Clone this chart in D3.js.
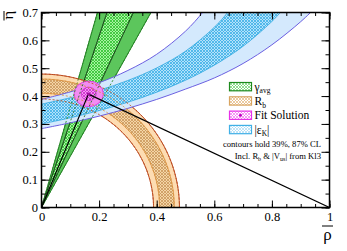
<!DOCTYPE html>
<html><head><meta charset="utf-8">
<script src="https://cdn.jsdelivr.net/npm/d3@7"></script>
<style>body{margin:0;background:#fff}svg{display:block}text{font-family:"Liberation Serif","Times New Roman",serif}</style>
</head><body><svg id="c" width="347" height="251"></svg>
<script>
// ---------- data ----------
const xMajorTicks=[0,0.2,0.4,0.6,0.8,1];
const xTickLabels=["0","0.2","0.4","0.6","0.8","1"];
const yMajorTicks=[0,0.1,0.2,0.3,0.4,0.5,0.6,0.7];
const yTickLabels=["0","0.1","0.2","0.3","0.4","0.5","0.6","0.7"];
const gammaOuterDeg=[61.5,74.5];
const gammaInnerDeg=[65.5,72];
const rbOuterRadii=[0.389,0.479];
const rbInnerRadii=[0.410,0.461];
const epsUpperOuter=[[0,0.388],[0.1,0.415],[0.2,0.448],[0.3,0.492],[0.4,0.550],[0.5,0.633],[0.56,0.701],[0.6,0.758]];
const epsUpperInner=[[0,0.371],[0.1,0.394],[0.2,0.421],[0.3,0.456],[0.4,0.501],[0.5,0.561],[0.6,0.647],[0.65,0.705],[0.7,0.78]];
const epsLowerInner=[[0,0.300],[0.1,0.322],[0.2,0.348],[0.3,0.378],[0.4,0.414],[0.5,0.457],[0.6,0.511],[0.7,0.579],[0.8,0.668],[0.85,0.724]];
const epsLowerOuter=[[0,0.283],[0.1,0.304],[0.2,0.328],[0.3,0.356],[0.4,0.388],[0.5,0.425],[0.6,0.465],[0.7,0.517],[0.8,0.584],[0.9,0.667],[0.95,0.716]];
const fitCenter=[0.164,0.408];
const fitOuterRadii=[0.051,0.046];
const fitInnerRadii=[0.026,0.024];
const apex=[0.163,0.407];
const legendKeys=["gamma","rb","fit","eps"];
const noteLines=["contours hold 39%, 87% CL","Incl. R_b & |V_us| from Kl3"];

// ---------- setup ----------
const svg=d3.select('#c');
const x=d3.scaleLinear().domain([0,1]).range([41.5,329.5]);
const y=d3.scaleLinear().domain([0,0.7]).range([207.5,12.5]);
const defs=svg.append('defs');
defs.append('clipPath').attr('id','plot').append('rect')
  .attr('x',x(0)).attr('y',y(0.7)).attr('width',x(1)-x(0)).attr('height',y(0)-y(0.7));
function pat(id,bg,fg,sw){
  const p=defs.append('pattern').attr('id',id).attr('patternUnits','userSpaceOnUse').attr('width',3).attr('height',3);
  p.append('rect').attr('width',3).attr('height',3).attr('fill',bg);
  p.append('path').attr('d','M0,0L3,3M3,0L0,3').attr('stroke',fg).attr('stroke-width',sw);
}
pat('pG','#a6f4a0','#2cbf2c',0.8);
pat('pT','#f4d6a6','#c9955a',0.8);
pat('pC','#b4e2fb','#3aaee6',0.8);
pat('pM','#f59af5','#cc22cc',0.8);
pat('lG','#ffffff','#66d066',0.7);
pat('lT','#ffffff','#e2b578',0.7);
pat('lC','#ffffff','#a6d8f3',0.7);
pat('lM','#ffffff','#f070f0',0.7);

const line=d3.line().x(d=>x(d[0])).y(d=>y(d[1]));
const curve=d3.line().x(d=>x(d[0])).y(d=>y(d[1])).curve(d3.curveCatmullRom);
const rad=a=>a*Math.PI/180;
const g=svg.append('g').attr('clip-path','url(#plot)');

// gamma wedge
function wedge(a){const R=3;return [[0,0],[R*Math.cos(rad(a[0])),R*Math.sin(rad(a[0]))],[R*Math.cos(rad(a[1])),R*Math.sin(rad(a[1]))]];}
function ray(a){return [[0,0],[3*Math.cos(rad(a)),3*Math.sin(rad(a))]];}
g.append('path').attr('d',line(wedge(gammaOuterDeg))+'Z').attr('fill','#5cc65c');
g.append('path').attr('d',line(wedge(gammaInnerDeg))+'Z').attr('fill','url(#pG)');
gammaOuterDeg.forEach(a=>g.append('path').attr('d',line(ray(a))).attr('stroke','#1f7d1f').attr('stroke-width',1).attr('fill','none'));
gammaInnerDeg.forEach(a=>g.append('path').attr('d',line(ray(a))).attr('stroke','#153d15').attr('stroke-width',1).attr('fill','none'));

// Rb ring
function arcPts(r,a0,a1){const n=Math.abs(a1-a0),s=Math.sign(a1-a0);return d3.range(n+1).map(i=>{const a=rad(a0+s*i);return [r*Math.cos(a),r*Math.sin(a)];});}
function annulus(r){return line(arcPts(r[1],0,90).concat(arcPts(r[0],90,0)))+'Z';}
g.append('path').attr('d',annulus(rbOuterRadii)).attr('fill','#fddcb2');
g.append('path').attr('d',annulus(rbInnerRadii)).attr('fill','url(#pT)');
rbOuterRadii.forEach(r=>g.append('path').attr('d',line(arcPts(r,0,90))).attr('stroke','#b8441e').attr('stroke-width',1).attr('fill','none'));
rbInnerRadii.forEach(r=>g.append('path').attr('d',line(arcPts(r,0,90))).attr('stroke','#d99240').attr('stroke-width',0.8).attr('fill','none'));

// eps_K band
function band(up,lo){return curve(up)+'L'+curve(lo.slice().reverse()).slice(1)+'Z';}
g.append('path').attr('d',band(epsUpperOuter,epsLowerOuter)).attr('fill','#d4e9fd');
g.append('path').attr('d',band(epsUpperInner,epsLowerInner)).attr('fill','url(#pC)');
[epsUpperOuter,epsLowerOuter].forEach(e=>g.append('path').attr('d',curve(e)).attr('stroke','#6b5fe0').attr('stroke-width',1).attr('fill','none'));
[epsUpperInner,epsLowerInner].forEach(e=>g.append('path').attr('d',curve(e)).attr('stroke','#2ea8e0').attr('stroke-width',0.8).attr('fill','none'));

// fit solution
const rx=r=>x(r)-x(0), ry=r=>y(0)-y(r);
g.append('ellipse').attr('cx',x(fitCenter[0])).attr('cy',y(fitCenter[1])).attr('rx',rx(fitOuterRadii[0])).attr('ry',ry(fitOuterRadii[1]))
  .attr('fill','#f28cf2').attr('stroke','#e040e0').attr('stroke-width',1);
g.append('ellipse').attr('cx',x(fitCenter[0])).attr('cy',y(fitCenter[1])).attr('rx',rx(fitInnerRadii[0])).attr('ry',ry(fitInnerRadii[1]))
  .attr('fill','url(#pM)').attr('stroke','#cc30cc').attr('stroke-width',0.8);

// dashed contour overlays
const dash='2,2';
gammaOuterDeg.forEach(a=>g.append('path').attr('d',line(ray(a))).attr('stroke','#2a8a2a').attr('stroke-dasharray',dash).attr('stroke-width',0.9).attr('fill','none'));
gammaInnerDeg.forEach(a=>g.append('path').attr('d',line(ray(a))).attr('stroke','#2a6a2a').attr('stroke-dasharray',dash).attr('stroke-width',0.9).attr('fill','none'));
rbOuterRadii.forEach(r=>g.append('path').attr('d',line(arcPts(r,0,90))).attr('stroke','#c0501e').attr('stroke-dasharray',dash).attr('stroke-width',0.9).attr('fill','none'));
rbInnerRadii.forEach(r=>g.append('path').attr('d',line(arcPts(r,0,90))).attr('stroke','#d99240').attr('stroke-dasharray',dash).attr('stroke-width',0.9).attr('fill','none'));

// triangle
g.append('path').attr('d',line([[0,0],apex,[1,0]])).attr('stroke','#000').attr('stroke-width',1.2).attr('fill','none');
g.append('circle').attr('cx',x(apex[0])).attr('cy',y(apex[1])).attr('r',1.6).attr('fill','#a010a0');

// ---------- axes ----------
const xMinor=d3.range(0,1.0001,0.05), yMinor=d3.range(0,0.7001,0.05);
function ax(gen,tr,vals,size,labels,pad){
  const a=gen.tickValues(vals).tickSize(size).tickSizeOuter(0);
  if(labels){a.tickFormat((d,i)=>labels[i]).tickPadding(pad);} else a.tickFormat('');
  const s=svg.append('g').attr('transform',tr).call(a);
  s.select('.domain').remove();
  s.selectAll('line').attr('stroke','#000').attr('stroke-width',1);
  s.selectAll('text').attr('font-size',12.5).attr('fill','#000').style('font-family','"Liberation Serif",serif');
  if(!labels) s.selectAll('text').remove();
  return s;
}
ax(d3.axisBottom(x),`translate(0,${y(0)})`,xMajorTicks,-7,xTickLabels,5);
ax(d3.axisBottom(x),`translate(0,${y(0)})`,xMinor,-3.5,null);
ax(d3.axisTop(x),`translate(0,${y(0.7)})`,xMajorTicks,-7,null);
ax(d3.axisTop(x),`translate(0,${y(0.7)})`,xMinor,-3.5,null);
ax(d3.axisLeft(y),`translate(${x(0)},0)`,yMajorTicks,-8,yTickLabels,3.5);
ax(d3.axisLeft(y),`translate(${x(0)},0)`,yMinor,-4,null);
ax(d3.axisRight(y),`translate(${x(1)},0)`,yMajorTicks,-8,null);
ax(d3.axisRight(y),`translate(${x(1)},0)`,yMinor,-4,null);
svg.append('rect').attr('x',x(0)).attr('y',y(0.7)).attr('width',x(1)-x(0)).attr('height',y(0)-y(0.7))
  .attr('fill','none').attr('stroke','#000').attr('stroke-width',1.5);

// axis titles (bars drawn as lines)
svg.append('text').attr('x',327.5).attr('y',240).attr('text-anchor','middle').attr('font-size',17).text('ρ');
svg.append('line').attr('x1',322).attr('x2',333).attr('y1',226).attr('y2',226).attr('stroke','#000').attr('stroke-width',1);
svg.append('text').attr('transform','translate(12.5,10.5) rotate(-90) scale(1.25,1)').attr('text-anchor','end').attr('font-size',14).text('η');
svg.append('line').attr('x1',4).attr('x2',4).attr('y1',11).attr('y2',20.5).attr('stroke','#000').attr('stroke-width',1);

// ---------- legend ----------
const lx=229.5,bw=22,bh=8.3,ly0=82.5,dy=14.3;
const leg=svg.append('g');
const legStyle={gamma:['url(#lG)','#1e8a1e'],rb:['url(#lT)','#d8a460'],fit:['url(#lM)','#e830e8'],eps:['url(#lC)','#40b0e6']};
legendKeys.forEach((k,i)=>{
  const yy=ly0+i*dy;
  leg.append('rect').attr('x',lx).attr('y',yy).attr('width',bw).attr('height',bh)
    .attr('fill',legStyle[k][0]).attr('stroke',legStyle[k][1]).attr('stroke-width',1.2);
  if(k==='fit') leg.append('circle').attr('cx',lx+bw/2).attr('cy',yy+bh/2).attr('r',1.5).attr('fill','#c000c0');
  const t=leg.append('text').attr('x',254.5).attr('y',yy+bh).attr('font-size',11.5);
  if(k==='gamma'){t.append('tspan').text('γ');t.append('tspan').attr('font-size',7.5).attr('dy',2.5).text('avg');}
  if(k==='rb'){t.append('tspan').text('R');t.append('tspan').attr('font-size',7.5).attr('dy',2.5).text('b');}
  if(k==='fit'){t.text('Fit Solution');}
  if(k==='eps'){t.append('tspan').text('|ε');t.append('tspan').attr('font-size',7.5).attr('dy',2.5).text('K');t.append('tspan').attr('dy',-2.5).text('|');}
});
svg.append('text').attr('x',321).attr('y',146.5).attr('text-anchor','end').attr('font-size',8.6).text(noteLines[0]);
const n2=svg.append('text').attr('x',321).attr('y',159).attr('text-anchor','end').attr('font-size',8.6);
n2.append('tspan').text('Incl. R');
n2.append('tspan').attr('font-size',6).attr('dy',2).text('b');
n2.append('tspan').attr('dy',-2).text(' & |V');
n2.append('tspan').attr('font-size',6).attr('dy',2).text('us');
n2.append('tspan').attr('dy',-2).text('| from Kl3');
</script></body></html>
